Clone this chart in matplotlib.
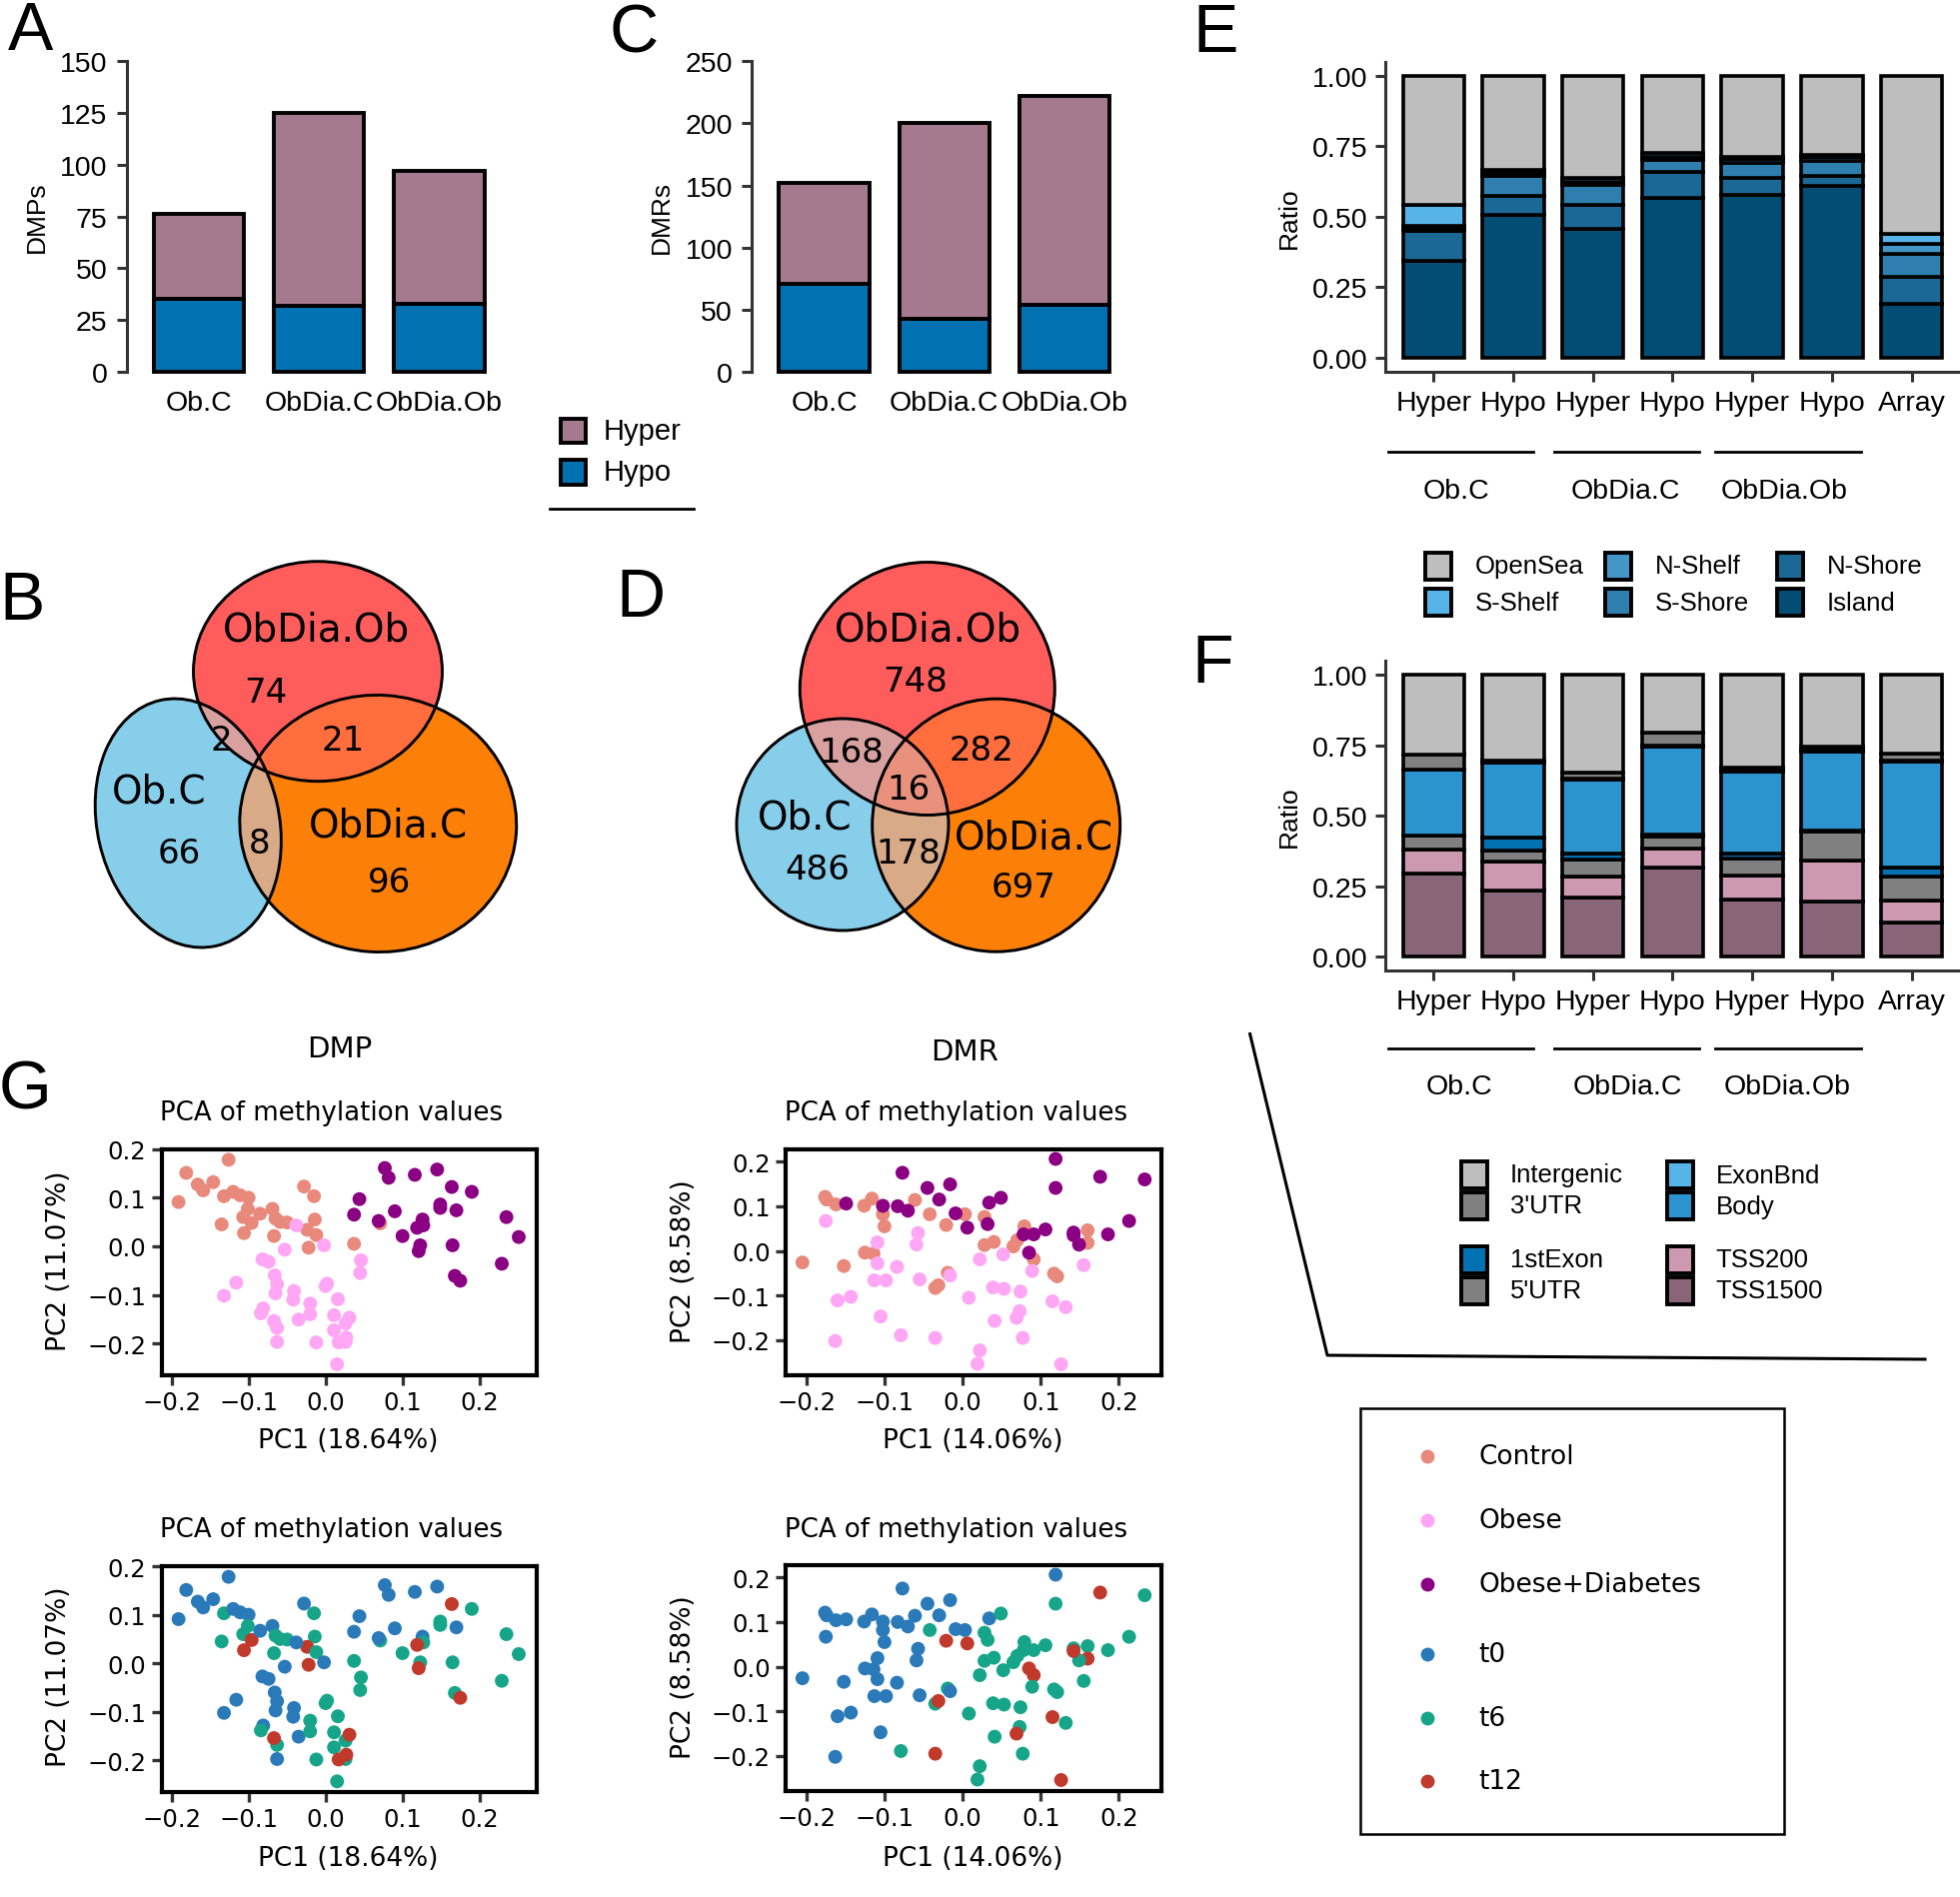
import numpy as np
import matplotlib
matplotlib.use('Agg')
import matplotlib.pyplot as plt
from matplotlib.patches import Ellipse, Rectangle, Polygon

# ---------------- data ----------------
comparisons = ['Ob.C', 'ObDia.C', 'ObDia.Ob']
dmp_hypo = [35, 32, 33]
dmp_hyper = [41, 93, 64]
dmr_hypo = [71, 43, 54]
dmr_hyper = [81, 157, 168]

# region counts: only Ob.C, only ObDia.Ob, only ObDia.C, ObC&ObDiaOb, ObC&ObDiaC, ObDiaOb&ObDiaC, all
venn_names = ['Ob.C', 'ObDia.Ob', 'ObDia.C']
venn_dmp = [66, 74, 96, 2, 8, 21, 0]
venn_dmr = [486, 748, 697, 168, 178, 282, 16]

ratio_bars = ['Hyper', 'Hypo', 'Hyper', 'Hypo', 'Hyper', 'Hypo', 'Array']
ratio_groups = ['Ob.C', 'ObDia.C', 'ObDia.Ob']

cgi_cats = ['OpenSea', 'S-Shelf', 'N-Shelf', 'S-Shore', 'N-Shore', 'Island']
cgi_opensea = [0.458, 0.334, 0.363, 0.274, 0.289, 0.281, 0.560]
cgi_sshelf = [0.073, 0.010, 0.014, 0.015, 0.006, 0.008, 0.036]
cgi_nshelf = [0.011, 0.010, 0.010, 0.008, 0.012, 0.012, 0.035]
cgi_sshore = [0.010, 0.071, 0.071, 0.045, 0.055, 0.055, 0.082]
cgi_nshore = [0.105, 0.070, 0.084, 0.092, 0.059, 0.036, 0.098]
cgi_island = [0.343, 0.505, 0.458, 0.566, 0.579, 0.608, 0.189]

gene_cats = ['Intergenic', "3'UTR", 'ExonBnd', 'Body', '1stExon', "5'UTR", 'TSS200', 'TSS1500']
gene_intergenic = [0.283, 0.304, 0.347, 0.205, 0.330, 0.255, 0.280]
gene_utr3 = [0.052, 0.005, 0.020, 0.045, 0.010, 0.012, 0.024]
gene_exonbnd = [0.000, 0.003, 0.005, 0.004, 0.002, 0.004, 0.005]
gene_body = [0.234, 0.267, 0.262, 0.314, 0.292, 0.283, 0.375]
gene_exon1 = [0.000, 0.043, 0.021, 0.005, 0.018, 0.003, 0.030]
gene_utr5 = [0.051, 0.042, 0.059, 0.043, 0.059, 0.101, 0.086]
gene_tss200 = [0.085, 0.100, 0.077, 0.068, 0.086, 0.147, 0.080]
gene_tss1500 = [0.295, 0.236, 0.209, 0.316, 0.203, 0.195, 0.120]

# PCA of DMPs: PC1, PC2, group, time
dmp_pc1 = [-0.191, -0.181, -0.166, -0.159, -0.146, -0.126, -0.132, -0.120, -0.111, -0.100,
           -0.101, -0.107, -0.096, -0.085, -0.069, -0.065, -0.050, -0.059, -0.106, -0.135,
           -0.067, -0.028, -0.015, -0.014, -0.024, -0.012, -0.022, 0.037, 0.071,
           -0.038, -0.053, -0.002, -0.082, -0.074, -0.066, -0.063, -0.065, -0.116, -0.132,
           -0.041, -0.042, -0.081, -0.035, -0.063, 0.046, 0.045, 0.002, 0.000, 0.016,
           -0.020, -0.020, -0.084, 0.011, -0.063, 0.026, 0.011, -0.012, 0.015, 0.026,
           -0.067, 0.031, 0.027, 0.017,
           0.044, 0.037, 0.077, 0.082, 0.116, 0.145, 0.090, 0.069, 0.170, 0.126,
           0.100, 0.149, 0.149, 0.190, 0.127, 0.123, 0.165, 0.235, 0.251, 0.229,
           0.168, 0.119, 0.121, 0.164, 0.175]
dmp_pc2 = [0.091, 0.151, 0.127, 0.115, 0.132, 0.178, 0.103, 0.112, 0.105, 0.100,
           0.077, 0.060, 0.048, 0.067, 0.077, 0.057, 0.049, 0.050, 0.027, 0.045,
           0.021, 0.123, 0.103, 0.055, 0.034, 0.023, -0.003, 0.005, 0.047,
           0.043, -0.007, 0.002, -0.027, -0.032, -0.060, -0.078, -0.097, -0.075, -0.102,
           -0.092, -0.110, -0.128, -0.151, -0.197, -0.029, -0.055, -0.077, -0.082, -0.109,
           -0.118, -0.140, -0.138, -0.142, -0.168, -0.159, -0.173, -0.198, -0.243, -0.197,
           -0.154, -0.147, -0.188, -0.198,
           0.097, 0.065, 0.161, 0.141, 0.147, 0.158, 0.072, 0.052, 0.074, 0.055,
           0.021, 0.086, 0.079, 0.112, 0.043, 0.002, 0.002, 0.060, 0.019, -0.036,
           -0.061, 0.038, -0.010, 0.122, -0.071]
dmp_group = ['Control'] * 29 + ['Obese'] * 34 + ['Obese+Diabetes'] * 25
dmp_time = (['t0'] * 6 + ['t6'] + ['t0'] * 3 + ['t6', 't6', 't12', 't0', 't0', 't6', 't6', 't6', 't12', 't6',
            't6', 't0', 't6', 't6', 't12', 't6', 't12', 't6', 't6']
            + ['t0'] * 15 + ['t6'] * 15 + ['t12'] * 4
            + ['t0'] * 10 + ['t6'] * 11 + ['t12'] * 4)

# PCA of DMRs
dmr_pc1 = [-0.176, -0.174, -0.162, -0.126, -0.116, -0.102, -0.100, -0.061, -0.042, -0.021,
           0.003, 0.028, 0.028, 0.040, 0.065, 0.070, 0.079, 0.091, 0.117, 0.121,
           0.160, 0.160, -0.125, -0.114, -0.205, -0.152, -0.019, -0.035, -0.031,
           -0.175, -0.109, -0.109, -0.057, -0.059, -0.084, -0.113, -0.098, -0.160, -0.143,
           -0.055, -0.105, -0.163, -0.079, -0.035, 0.008, -0.016, 0.022, 0.052, 0.039,
           0.053, 0.074, 0.073, 0.069, 0.041, 0.077, 0.022, 0.019, 0.089, 0.115,
           0.132, 0.155, 0.126,
           -0.149, -0.102, -0.083, -0.070, -0.077, -0.045, -0.030, -0.016, -0.009, 0.006,
           0.034, 0.049, 0.032, 0.078, 0.091, 0.106, 0.085, 0.119, 0.119, 0.176,
           0.233, 0.213, 0.142, 0.149, 0.186, 0.142]
dmr_pc2 = [0.121, 0.115, 0.104, 0.101, 0.117, 0.082, 0.055, 0.114, 0.082, 0.058,
           0.082, 0.076, 0.013, 0.020, 0.010, 0.024, 0.055, -0.019, -0.051, -0.057,
           0.046, 0.018, -0.004, -0.006, -0.026, -0.034, -0.049, -0.083, -0.077,
           0.067, 0.019, -0.028, 0.040, 0.014, -0.036, -0.066, -0.066, -0.111, -0.103,
           -0.064, -0.147, -0.202, -0.189, -0.195, -0.105, -0.055, -0.019, -0.008, -0.082,
           -0.085, -0.091, -0.135, -0.150, -0.157, -0.195, -0.223, -0.253, -0.045, -0.113,
           -0.126, -0.032, -0.254,
           0.106, 0.101, 0.100, 0.090, 0.175, 0.141, 0.115, 0.149, 0.084, 0.052,
           0.108, 0.119, 0.060, 0.037, 0.037, 0.048, -0.004, 0.206, 0.141, 0.166,
           0.160, 0.067, 0.041, 0.014, 0.037, 0.035]
dmr_group = ['Control'] * 29 + ['Obese'] * 33 + ['Obese+Diabetes'] * 26
dmr_time = (['t0'] * 8 + ['t6', 't12', 't0'] + ['t6'] * 6 + ['t12', 't6', 't6', 't6', 't12']
            + ['t0'] * 4 + ['t6', 't6', 't12']
            + ['t0'] * 13 + ['t6', 't12', 't6', 't0'] + ['t6'] * 6 + ['t12'] + ['t6'] * 5
            + ['t12', 't6', 't6', 't12']
            + ['t0'] * 9 + ['t12', 't0', 't6', 't6', 't6', 't6', 't6', 't12', 't0', 't6', 't12',
               't6', 't6', 't6', 't6', 't6', 't12'])

pc_var = {'DMP': (18.64, 11.07), 'DMR': (14.06, 8.58)}

# ---------------- style ----------------
W, H, DPI = 1961, 1899, 100
plt.rcParams['font.family'] = ['Liberation Sans', 'DejaVu Sans']
HYPER_C, HYPO_C = '#A57A8F', '#0072B2'
AXC = '#333333'
cgi_colors = {'OpenSea': '#BEBEBE', 'S-Shelf': '#56B4E9', 'N-Shelf': '#4396C8',
              'S-Shore': '#2E7FAE', 'N-Shore': '#1B6796', 'Island': '#034D75'}
gene_colors = {'Intergenic': '#BEBEBE', "3'UTR": '#808080', 'ExonBnd': '#56B4E9',
               'Body': '#2B93CD', '1stExon': '#0072B2', "5'UTR": '#808080',
               'TSS200': '#CC99B1', 'TSS1500': '#886677'}
group_colors = {'Control': '#E8897C', 'Obese': '#FFA6F5', 'Obese+Diabetes': '#8B0083'}
time_colors = {'t0': '#2A7AB9', 't6': '#17A589', 't12': '#C0392B'}
venn_fill = {'A': '#87CEEB', 'B': '#FF5C5C', 'C': '#FC8008',
             'AB': '#D9A0A0', 'AC': '#D9AA87', 'BC': '#FF6E3C', 'ABC': '#E9917D'}

fig = plt.figure(figsize=(W / DPI, H / DPI), dpi=DPI)


def add_ax(x0, y0, x1, y1):
    return fig.add_axes([x0 / W, 1 - y1 / H, (x1 - x0) / W, (y1 - y0) / H])


# ---------------- A / C bar charts ----------------
def count_bars(ax, hypo, hyper, ymax, step, ylabel):
    x = np.arange(len(comparisons))
    ax.bar(x, hypo, width=0.75, color=HYPO_C, edgecolor='black', linewidth=2.8, clip_on=False)
    ax.bar(x, hyper, bottom=hypo, width=0.75, color=HYPER_C, edgecolor='black', linewidth=2.8,
           clip_on=False)
    ax.set_xlim(-0.6, len(x) - 0.4)
    ax.set_ylim(0, ymax)
    ax.set_yticks(np.arange(0, ymax + 1, step))
    ax.set_xticks(x)
    ax.set_xticklabels(comparisons, fontsize=20.5)
    ax.tick_params(axis='y', labelsize=20.5, length=7, width=2.2, color=AXC, pad=7)
    ax.tick_params(axis='x', length=0, pad=13)
    for s in ['top', 'right', 'bottom']:
        ax.spines[s].set_visible(False)
    ax.spines['left'].set_linewidth(2.2)
    ax.spines['left'].set_color(AXC)
    ax.set_ylabel(ylabel, fontsize=19, labelpad=8)


axA = add_ax(126.8, 62, 511.7, 373)
count_bars(axA, dmp_hypo, dmp_hyper, 150, 25, 'DMPs')
axC = add_ax(752.4, 62.3, 1137, 373)
count_bars(axC, dmr_hypo, dmr_hyper, 250, 50, 'DMRs')


# ---------------- E / F stacked ratio bars ----------------
def ratio_bars_plot(ax, cats, values, colors):
    x = np.arange(len(ratio_bars))
    bottom = np.zeros(len(x))
    for cat in reversed(cats):
        v = np.array(values[cat])
        ax.bar(x, v, bottom=bottom, width=0.77, color=colors[cat], edgecolor='black',
               linewidth=2.6, clip_on=False)
        bottom += v
    ax.set_xlim(-0.6, len(x) - 0.4)
    ax.set_ylim(-0.05, 1.05)
    ax.set_yticks([0, 0.25, 0.5, 0.75, 1.0])
    ax.set_yticklabels(['0.00', '0.25', '0.50', '0.75', '1.00'])
    ax.set_xticks(x)
    ax.set_xticklabels(ratio_bars)
    ax.tick_params(labelsize=20.5, length=7, width=2.2, color=AXC, pad=6)
    for s in ['top', 'right']:
        ax.spines[s].set_visible(False)
    for s in ['left', 'bottom']:
        ax.spines[s].set_linewidth(2.2)
        ax.spines[s].set_color(AXC)
    ax.set_ylabel('Ratio', fontsize=19, labelpad=8)


cgi_values = dict(zip(cgi_cats, [cgi_opensea, cgi_sshelf, cgi_nshelf, cgi_sshore, cgi_nshore,
                                 cgi_island]))
gene_values = dict(zip(gene_cats, [gene_intergenic, gene_utr3, gene_exonbnd, gene_body,
                                   gene_exon1, gene_utr5, gene_tss200, gene_tss1500]))
axE = add_ax(1386.4, 63, 1960.4, 372.7)
ratio_bars_plot(axE, cgi_cats, cgi_values, cgi_colors)
axF = add_ax(1386.4, 661.9, 1960.4, 972.4)
ratio_bars_plot(axF, gene_cats, gene_values, gene_colors)


# ---------------- G PCA panels ----------------
def pca_panel(box, pc1, pc2, cols, xlim, ylim):
    ax = add_ax(*box)
    ax.scatter(pc1, pc2, s=100, c=cols, linewidths=0, zorder=3)
    ax.set_xlim(*xlim)
    ax.set_ylim(*ylim)
    ticks = [-0.2, -0.1, 0.0, 0.1, 0.2]
    labs = ['\u22120.2', '\u22120.1', '0.0', '0.1', '0.2']
    ax.set_xticks(ticks)
    ax.set_xticklabels(labs, family='DejaVu Sans', fontsize=17.5)
    ax.set_yticks(ticks)
    ax.set_yticklabels(labs, family='DejaVu Sans', fontsize=17.5)
    ax.tick_params(length=7, width=2.4, color=AXC, pad=4)
    for s in ax.spines.values():
        s.set_linewidth(3.0)
    return ax


dmp_lim = ((-0.213, 0.274), (-0.265, 0.2))
dmr_lim = ((-0.2265, 0.254), (-0.278, 0.228))
pca_panel((161.7, 1150.7, 536.7, 1376.7), dmp_pc1, dmp_pc2,
          [group_colors[g] for g in dmp_group], *dmp_lim)
pca_panel((161.7, 1568, 536.7, 1794), dmp_pc1, dmp_pc2,
          [time_colors[t] for t in dmp_time], *dmp_lim)
pca_panel((786, 1150.7, 1161.7, 1376.7), dmr_pc1, dmr_pc2,
          [group_colors[g] for g in dmr_group], *dmr_lim)
pca_panel((786, 1566.7, 1161.7, 1792.7), dmr_pc1, dmr_pc2,
          [time_colors[t] for t in dmr_time], *dmr_lim)

# ---------------- overlay (pixel coordinates) ----------------
ov = fig.add_axes([0, 0, 1, 1])
ov.set_xlim(0, W)
ov.set_ylim(H, 0)
ov.axis('off')


def ell_pts(cx, cy, w, h, ang, n=900):
    t = np.linspace(0, 2 * np.pi, n, endpoint=False)
    x, y = w / 2 * np.cos(t), h / 2 * np.sin(t)
    a = np.deg2rad(ang)
    return np.column_stack([cx + x * np.cos(a) - y * np.sin(a), cy + x * np.sin(a) + y * np.cos(a)])


def inside(p, cx, cy, w, h, ang):
    a = np.deg2rad(ang)
    dx, dy = p[:, 0] - cx, p[:, 1] - cy
    u = dx * np.cos(a) + dy * np.sin(a)
    v = -dx * np.sin(a) + dy * np.cos(a)
    return (u / (w / 2)) ** 2 + (v / (h / 2)) ** 2 <= 1


def lens(e1, e2):
    p1, p2 = ell_pts(*e1), ell_pts(*e2)
    pts = np.vstack([p1[inside(p1, *e2)], p2[inside(p2, *e1)]])
    if len(pts) < 3:
        return None
    c = pts.mean(0)
    return pts[np.argsort(np.arctan2(pts[:, 1] - c[1], pts[:, 0] - c[0]))]


def mk_ell(e, **kw):
    cx, cy, w, h, ang = e
    return Ellipse((cx, cy), w, h, angle=ang, transform=ov.transData, **kw)


def venn(eA, eB, eC, counts, label_pos, count_pos):
    for e, k in [(eA, 'A'), (eB, 'B'), (eC, 'C')]:
        ov.add_patch(mk_ell(e, facecolor=venn_fill[k], edgecolor='none', zorder=1))
    for (e1, e2, k) in [(eA, eB, 'AB'), (eA, eC, 'AC'), (eB, eC, 'BC')]:
        pl = lens(e1, e2)
        if pl is not None:
            ov.add_patch(Polygon(pl, closed=True, facecolor=venn_fill[k], edgecolor='none', zorder=2))
    pl = lens(eA, eB)
    if pl is not None:
        tri = Polygon(pl, closed=True, facecolor=venn_fill['ABC'], edgecolor='none', zorder=3)
        ov.add_patch(tri)
        tri.set_clip_path(mk_ell(eC))
    for e in (eA, eB, eC):
        ov.add_patch(mk_ell(e, facecolor='none', edgecolor='black', linewidth=2.1, zorder=4))
    for name, (x, y) in zip(venn_names, label_pos):
        ov.text(x, y, name, fontsize=28, ha='center', va='center', zorder=5, family='DejaVu Sans')
    for c, (x, y) in zip(counts, count_pos):
        if c > 0:
            ov.text(x, y, str(c), fontsize=24.5, ha='center', va='center', zorder=5,
                    family='DejaVu Sans')


venn((188.3, 824.5, 182, 252, -13.0), (318, 672.7, 249, 220, 0), (378.3, 825, 277, 257, 4),
     venn_dmp, [(159.3, 792), (316, 630.7), (388.3, 826.7)],
     [(179, 855), (265.7, 693.3), (390, 883.3), (221.7, 741.7), (259.3, 844), (342.7, 741.7), (0, 0)])
venn((843, 826, 212, 212, 0), (927.8, 690, 255, 253, 0), (996.7, 826.7, 248, 253, 0),
     venn_dmr, [(805, 818), (928, 630), (1034.5, 838)],
     [(817.6, 870), (915.4, 682), (1024.2, 888), (852, 753), (908.5, 855), (981.5, 751), (908.5, 790)])

# panel letters
for letter, (x, y) in zip('ABCDEFG', [(31, 32), (22.5, 602), (634, 34), (641, 599), (1216, 34),
                                      (1213, 665), (25, 1092)]):
    ov.text(x, y, letter, fontsize=49, ha='center', va='center')

# A/C legend
for lab, col, (y0, y1) in [('Hyper', HYPER_C, (418, 445)), ('Hypo', HYPO_C, (459, 487))]:
    ov.add_patch(Rectangle((561, y0 + 1.5), 25, y1 - y0 - 3, facecolor=col, edgecolor='black',
                           linewidth=2.8))
    ov.text(604, (y0 + y1) / 2, lab, fontsize=21, ha='left', va='center')
ov.plot([550, 694], [510, 510], color='black', lw=2)

# E / F group labels
for ylin, ytxt, txs in [(452.7, 491.5, [1457, 1626, 1785]), (1050, 1088, [1460, 1628, 1788])]:
    for (xa, xb) in [(1389, 1534), (1555, 1700), (1716, 1862)]:
        ov.plot([xa, xb], [ylin, ylin], color='black', lw=2)
    for g, xt in zip(ratio_groups, txs):
        ov.text(xt, ytxt, g, fontsize=20.5, ha='center', va='center')

# E legend
cgi_leg = [('OpenSea', 1423.7, 567), ('S-Shelf', 1423.7, 603.5), ('N-Shelf', 1604, 567),
           ('S-Shore', 1604, 603.5), ('N-Shore', 1775.5, 567), ('Island', 1775.5, 603.5)]
for cat, x, y in cgi_leg:
    ov.add_patch(Rectangle((x + 2, y - 13.5), 26, 27, facecolor=cgi_colors[cat], edgecolor='black',
                           linewidth=2.8))
    ov.text(x + 52, y, cat, fontsize=18.5, ha='left', va='center')

# F legend
gene_leg = [('Intergenic', 1460, 1176.5), ("3'UTR", 1460, 1207.5), ('1stExon', 1460, 1261.5),
            ("5'UTR", 1460, 1292), ('ExonBnd', 1665.7, 1176.5), ('Body', 1665.7, 1207.5),
            ('TSS200', 1665.7, 1261.5), ('TSS1500', 1665.7, 1292)]
for cat, x, y in gene_leg:
    ov.add_patch(Rectangle((x + 2, y - 13.5), 26, 27, facecolor=gene_colors[cat], edgecolor='black',
                           linewidth=2.8))
    ov.text(x + 51, y, cat, fontsize=18.5, ha='left', va='center')

# connector line
ov.plot([1250.6, 1328, 1926], [1035.5, 1357, 1361], color='black', lw=2.2)

# G texts
dj = dict(family='DejaVu Sans')
ov.text(340, 1050, 'DMP', fontsize=21, ha='center', va='center', **dj)
ov.text(965.5, 1053, 'DMR', fontsize=21, ha='center', va='center', **dj)
for yt in (1114, 1531):
    ov.text(332, yt, 'PCA of methylation values', fontsize=18.7, ha='center', va='center', **dj)
    ov.text(957, yt, 'PCA of methylation values', fontsize=18.7, ha='center', va='center', **dj)
for yl in (1442, 1860):
    ov.text(348, yl, 'PC1 (%.2f%%)' % pc_var['DMP'][0], fontsize=19, ha='center', va='center', **dj)
    ov.text(973, yl, 'PC1 (%.2f%%)' % pc_var['DMR'][0], fontsize=19, ha='center', va='center', **dj)
for yc in (1262, 1678):
    ov.text(59, yc, 'PC2 (%.2f%%)' % pc_var['DMP'][1], fontsize=19, ha='center', va='center',
            rotation=90, **dj)
    ov.text(684, yc, 'PC2 (%.2f%%)' % pc_var['DMR'][1], fontsize=19, ha='center', va='center',
            rotation=90, **dj)

# PCA legend box
ov.add_patch(Rectangle((1361, 1410), 424, 426, facecolor='none', edgecolor='black', linewidth=1.8))
leg_items = list(group_colors.items()) + list(time_colors.items())
for (lab, col), y in zip(leg_items, [1458, 1522, 1586, 1656, 1720, 1783]):
    ov.scatter([1428], [y], s=100, color=col, linewidths=0)
    ov.text(1479.5, y, lab, fontsize=19, ha='left', va='center', **dj)

fig.savefig('out.png', dpi=DPI)
